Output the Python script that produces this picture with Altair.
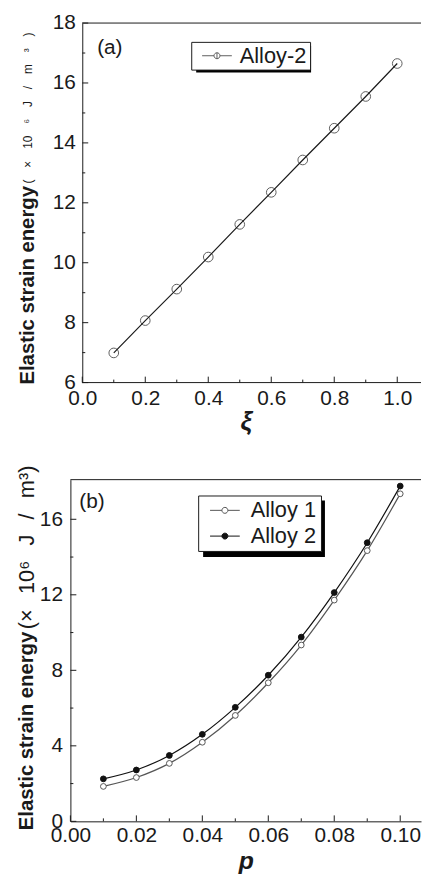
import altair as alt
import pandas as pd

FONT = "Liberation Sans"
INK = "#1a1a1a"
EM = "\u2003"
EN = "\u2002"
THIN = "\u2009"

# ---------------- data: panel (a) ----------------
xi = [0.1, 0.2, 0.3, 0.4, 0.5, 0.6, 0.7, 0.8, 0.9, 1.0]
energy_a = [6.99, 8.07, 9.12, 10.19, 11.28, 12.35, 13.43, 14.49, 15.55, 16.65]
a_series = ["Alloy-2"]
a_x_major = [0.0, 0.2, 0.4, 0.6, 0.8, 1.0]
a_x_minor = [0.1, 0.3, 0.5, 0.7, 0.9]
a_y_major = [6, 8, 10, 12, 14, 16, 18]
a_y_minor = [7, 9, 11, 13, 15, 17]

# ---------------- data: panel (b) ----------------
p_vals = [0.01, 0.02, 0.03, 0.04, 0.05, 0.06, 0.07, 0.08, 0.09, 0.10]
alloy1 = [1.85, 2.32, 3.07, 4.19, 5.61, 7.34, 9.34, 11.72, 14.34, 17.35]
alloy2 = [2.25, 2.72, 3.49, 4.61, 6.04, 7.74, 9.76, 12.12, 14.76, 17.76]
b_series = ["Alloy 1", "Alloy 2"]
b_x_major = [0.0, 0.02, 0.04, 0.06, 0.08, 0.10]
b_x_minor = [0.01, 0.03, 0.05, 0.07, 0.09]
b_y_major = [0, 4, 8, 12, 16]
b_y_minor = [2, 6, 10, 14]

y_title_bold = "Elastic strain energy"
y_unit_a = EM.join(["(", "×", "10", "⁶", "J", "/", "m", "³", ")"])
GAP = EN + THIN
y_unit_b = "(×" + GAP + "10⁶" + GAP + "J" + GAP + "/" + GAP + "m³)"
panel_tags = ["(a)", "(b)"]
x_titles = ["ξ", "p"]

SYM = ("M-2.5,0H-0.5M0.5,0H2.5M0.5,0A0.5,0.5 0 1 1 -0.5,0"
       "A0.5,0.5 0 1 1 0.5,0M0,-0.5V0.5")
SYM_B = "M-2.5,0H-0.5M0.5,0H2.5M0.5,0A0.5,0.5 0 1 1 -0.5,0A0.5,0.5 0 1 1 0.5,0"

X0A = 12  # panel (a) axis sits 12px inside its view


def text_layer(s, x, y, size, weight="normal", angle=0, align="left", style="normal"):
    return alt.Chart(pd.DataFrame({"t": [s]})).mark_text(
        font=FONT, fontSize=size, fontWeight=weight, fontStyle=style,
        angle=angle, align=align, baseline="middle", color=INK
    ).encode(x=alt.value(x), y=alt.value(y), text="t:N")


def axis_x(vals, fmt, title, tsize, lpad, tpad, domain=True):
    return alt.Axis(values=vals, format=fmt, title=title, titleFont=FONT,
                    titleFontSize=tsize, titleFontWeight="bold", titleFontStyle="italic",
                    titleColor=INK, labelFont=FONT, labelFontSize=21, labelColor=INK,
                    domain=domain, domainColor=INK, ticks=False, labelPadding=lpad,
                    titlePadding=tpad, grid=False, labelFlush=False, labelOverlap=False)


def axis_y(vals, pad, offset=0):
    return alt.Axis(values=vals, format="d", title=None, labelFont=FONT,
                    labelFontSize=21, labelColor=INK, domainColor=INK, ticks=False,
                    labelPadding=pad, grid=False, labelOverlap=False, offset=offset)


def xticks(vals, length, H, scale, ax):
    return alt.Chart(pd.DataFrame({"v": vals})).mark_rule(color=INK, strokeWidth=1).encode(
        x=alt.X("v:Q", scale=scale, axis=ax), y=alt.value(H), y2=alt.value(H - length))


def yticks(vals, x0, length, scale, ax):
    return alt.Chart(pd.DataFrame({"v": vals})).mark_rule(color=INK, strokeWidth=1).encode(
        y=alt.Y("v:Q", scale=scale, axis=ax), x=alt.value(x0), x2=alt.value(x0 + length))


# ---------------- panel (a) ----------------
WA, HA = 354, 363
PXA = 318.0  # pixels per unit of xi
xs_a = alt.Scale(domain=[-X0A / PXA, (WA - X0A) / PXA], nice=False, zero=False)
ys_a = alt.Scale(domain=[6, 18], nice=False, zero=False)
ax_xa = axis_x(a_x_major, ".1f", x_titles[0], 26, 5, 0, domain=False)
ax_ya = axis_y(a_y_major, 7, offset=-X0A)
df_a = pd.DataFrame({"xi": xi, "E": energy_a, "s": a_series * len(xi)})
stroke_a = alt.Stroke("s:N", scale=alt.Scale(domain=a_series, range=[INK]),
                      legend=alt.Legend(title=None, orient="none", legendX=122, legendY=19,
                                        symbolType=SYM, symbolSize=144, symbolStrokeWidth=1,
                                        symbolFillColor="white", symbolOffset=12,
                                        labelOffset=12, labelFont=FONT, labelFontSize=22,
                                        labelColor=INK, strokeColor=INK, fillColor="white",
                                        padding=3, cornerRadius=0))
base_a = alt.Chart(df_a).encode(
    x=alt.X("xi:Q", scale=xs_a, axis=ax_xa),
    y=alt.Y("E:Q", scale=ys_a, axis=ax_ya),
)
line_a = base_a.mark_line(strokeWidth=1.2).encode(stroke=stroke_a)
pts_a = base_a.mark_point(shape="circle", filled=False, size=95, strokeWidth=1,
                          color="#333").encode(stroke=stroke_a)
frame_a = alt.Chart(pd.DataFrame({"v": [0]})).mark_rule(color=INK)
top_a = frame_a.encode(x=alt.X("v:Q", scale=xs_a, axis=ax_xa), x2=alt.value(WA), y=alt.value(0))
bot_a = frame_a.encode(x=alt.X("v:Q", scale=xs_a, axis=ax_xa), x2=alt.value(WA), y=alt.value(HA))
shadow_a = alt.Chart(pd.DataFrame({"t": [0]})).mark_rect(color="black").encode(
    x=alt.value(127), x2=alt.value(243), y=alt.value(23), y2=alt.value(50))

panel_a = alt.layer(
    line_a, pts_a,
    xticks(a_x_major, 6, HA, xs_a, ax_xa), xticks(a_x_minor, 3, HA, xs_a, ax_xa),
    yticks(a_y_major, X0A, 6, ys_a, ax_ya), yticks(a_y_minor, X0A, 3, ys_a, ax_ya),
    top_a, bot_a, shadow_a,
    text_layer(panel_tags[0], 27, 25, 21),
    text_layer(y_title_bold, -43, 365, 20.5, weight="bold", angle=270),
    text_layer(y_unit_a, -43, 162, 12, angle=270),
).properties(width=WA, height=HA)

# ---------------- panel (b) ----------------
WB, HB = 354, 345
PXB = 3330.0  # pixels per unit of p
xs_b = alt.Scale(domain=[0, WB / PXB], nice=False, zero=False)
ys_b = alt.Scale(domain=[0, 18.1], nice=False, zero=False)
ax_xb = axis_x(b_x_major, ".2f", x_titles[1], 25, 3, 4)
ax_yb = axis_y(b_y_major, 8)
df_b = pd.DataFrame({
    "p": p_vals * 2,
    "E": alloy1 + alloy2,
    "s": [b_series[0]] * len(p_vals) + [b_series[1]] * len(p_vals),
})
leg_b = dict(title=None, orient="none", legendX=129, legendY=16,
             symbolType=SYM_B, symbolSize=144, symbolStrokeWidth=1, symbolOffset=12,
             labelOffset=15, labelFont=FONT, labelFontSize=22, labelColor=INK,
             strokeColor=INK, fillColor="white", padding=4, rowPadding=4, cornerRadius=0)
stroke_b = alt.Stroke("s:N", scale=alt.Scale(domain=b_series, range=["#555555", "#111111"]),
                      legend=alt.Legend(**leg_b))
fill_b = alt.Fill("s:N", scale=alt.Scale(domain=b_series, range=["white", "#111111"]),
                  legend=alt.Legend(**leg_b))
base_b = alt.Chart(df_b).encode(
    x=alt.X("p:Q", scale=xs_b, axis=ax_xb),
    y=alt.Y("E:Q", scale=ys_b, axis=ax_yb),
)
line_b = base_b.mark_line(strokeWidth=1.2, interpolate="monotone").encode(stroke=stroke_b)
pts_b = base_b.mark_point(shape="circle", filled=True, size=34, strokeWidth=1,
                          opacity=1).encode(stroke=stroke_b, fill=fill_b)
shadow_b = alt.Chart(pd.DataFrame({"t": [0]})).mark_rect(color="black").encode(
    x=alt.value(134), x2=alt.value(257), y=alt.value(21), y2=alt.value(78))
top_b = alt.Chart(pd.DataFrame({"t": [0]})).mark_rule(color=INK).encode(
    x=alt.value(0), x2=alt.value(WB), y=alt.value(0))

panel_b = alt.layer(
    line_b, pts_b,
    xticks(b_x_major, 6, HB, xs_b, ax_xb), xticks(b_x_minor, 3, HB, xs_b, ax_xb),
    yticks(b_y_major, 0, 6, ys_b, ax_yb), yticks(b_y_minor, 0, 3, ys_b, ax_yb),
    top_b, shadow_b,
    text_layer(panel_tags[1], 9, 23, 21),
    text_layer(y_title_bold, -44, 354, 20.5, weight="bold", angle=270),
    text_layer(y_unit_b, -44, 151, 22, angle=270),
).properties(width=WB, height=HB)

chart = alt.concat(panel_a, panel_b, columns=1, spacing=31).resolve_scale(
    stroke="independent", fill="independent"
).configure_view(stroke=None).properties(
    padding={"left": 7, "top": 0, "right": 0, "bottom": 0}
)

chart.save("out.html", embed_options={"renderer": "svg", "actions": False})
